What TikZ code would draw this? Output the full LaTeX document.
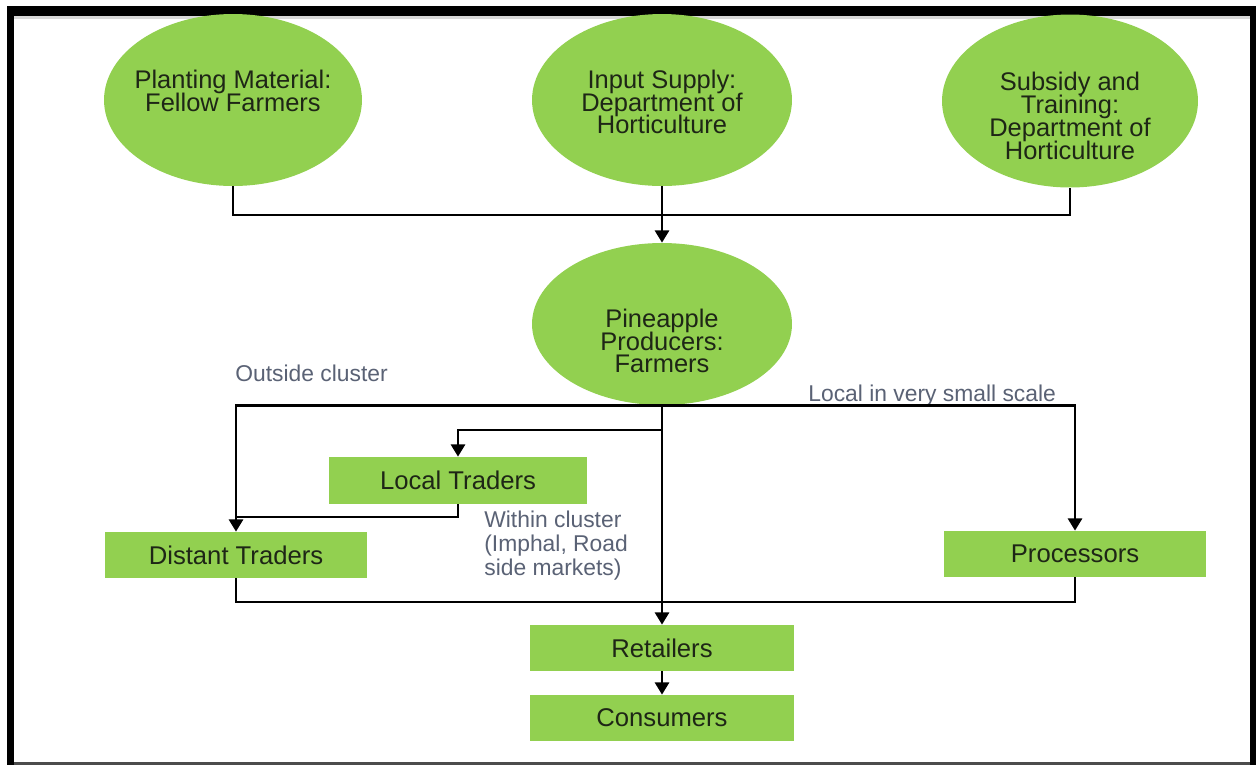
\documentclass[tikz,border=0pt]{standalone}
\usepackage{fontspec}
\setmainfont{Liberation Sans}
\usetikzlibrary{shapes.geometric,arrows.meta}
\definecolor{leaf}{HTML}{92D050}
\definecolor{ink}{HTML}{1E2616}
\definecolor{note}{HTML}{5A6275}
\lineskiplimit=-20pt
\begin{document}
\begin{tikzpicture}[x=0.02cm,y=-0.02cm,
  ell/.style={ellipse,fill=leaf,draw=none,inner sep=0pt},
  etext/.style={align=center,text=ink,inner sep=1pt,font=\fontsize{14.5}{13}\selectfont},
  box/.style={rectangle,fill=leaf,draw=none,inner sep=0pt,minimum height=0.92cm,
    text=ink,font=\fontsize{14.6}{16}\selectfont},
  notetext/.style={text=note,font=\fontsize{13}{13.4}\selectfont,inner sep=0pt},
  conn/.style={line width=1.6pt,draw=black},
  arr/.style={conn,-{Triangle[width=8pt,length=7pt]}}]
\useasboundingbox (0,0) rectangle (1256,765);
\fill[white] (0,0) rectangle (1256,765);
% frame
\fill[black] (7,6) rectangle (1256,16);
\fill[black] (7,6) rectangle (14,765);
\fill[black] (1250,14) rectangle (1256,765);
\fill[gray!30] (14,16) rectangle (1250,19);
\fill[black!70] (14,762) rectangle (1250,765);

% ellipses
\node[ell,minimum width=5.16cm,minimum height=3.44cm,
  label={[etext,yshift=0.18cm]center:{Planting Material:\\Fellow Farmers}}] (pm) at (233,100) {};
\node[ell,minimum width=5.2cm,minimum height=3.44cm,
  label={[etext,yshift=-0.04cm]center:{Input Supply:\\Department of\\Horticulture}}] (is) at (662,100) {};
\node[ell,minimum width=5.12cm,minimum height=3.46cm,
  label={[etext,yshift=-0.3cm]center:{Subsidy and\\Training:\\Department of\\Horticulture}}] (st) at (1070,101) {};
\node[ell,minimum width=5.2cm,minimum height=3.24cm,
  label={[etext,yshift=-0.34cm]center:{Pineapple\\Producers:\\Farmers}}] (pp) at (662,324) {};

% boxes
\node[box,minimum width=5.16cm,minimum height=0.94cm] (lt) at (458,480.5) {Local Traders};
\node[box,minimum width=5.26cm] (dt) at (236,555) {Distant Traders};
\node[box,minimum width=5.26cm] (pr) at (1075,554) {Processors};
\node[box,minimum width=5.28cm] (rt) at (662,648) {Retailers};
\node[box,minimum width=5.28cm] (cs) at (662,718) {Consumers};

% notes
\node[notetext,anchor=west] (oc) at (235,373) {Outside cluster};
\node[notetext,anchor=west] (lv) at (808,396) {Local in very small scale};
\node[notetext,anchor=north west,align=left] (wc) at (484,511) {Within cluster\\(Imphal, Road\\side markets)};

% coordinates
\coordinate (j1) at (662,215);
\coordinate (k) at (662,430);
\coordinate (j2) at (236,517);
\coordinate (j3) at (662,602);

% connectors
\draw[conn] (pm.south) |- (j1) -| (st.south);
\draw[arr] (is.south) -- (pp.north);
\draw[arr] (pp.south) -| (dt.north);
\draw[arr] (pp.south) -| (pr.north);
\draw[arr] (k) -| (lt.north);
\draw[conn] (lt.south) |- (j2);
\draw[arr] (pp.south) -- (rt.north);
\draw[conn] (dt.south) |- (j3) -| (pr.south);
\draw[arr] (rt.south) -- (cs.north);
\end{tikzpicture}
\end{document}
